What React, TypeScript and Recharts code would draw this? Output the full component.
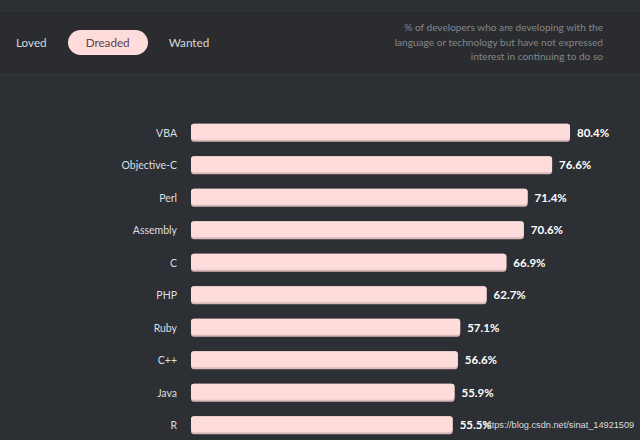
import React from 'react';
import { BarChart, Bar, XAxis, YAxis, LabelList } from 'recharts';

// Languages and "dreaded" share
const languages = ['VBA', 'Objective-C', 'Perl', 'Assembly', 'C', 'PHP', 'Ruby', 'C++', 'Java', 'R'];
const dreaded = [80.4, 76.6, 71.4, 70.6, 66.9, 62.7, 57.1, 56.6, 55.9, 55.5];
const tabs = ['Loved', 'Dreaded', 'Wanted'];
const activeTab = 'Dreaded';
const note = [
  '% of developers who are developing with the',
  'language or technology but have not expressed',
  'interest in continuing to do so',
];

const chartData = languages.map((name, i) => ({ name, value: dreaded[i] }));

const FONT = 'Lato, "Open Sans", sans-serif';

function PillBar(props: any) {
  const { x, y, width, height } = props;
  if (!width || width <= 0) return null;
  return (
    <g>
      <rect x={x} y={y} width={width} height={height} rx={3} ry={3} fill="#d8b8b8" />
      <rect x={x} y={y} width={width} height={height - 2} rx={3} ry={3} fill="#ffdcdc" />
    </g>
  );
}

export default function App() {
  return (
    <div
      style={{
        position: 'absolute',
        left: 0,
        top: 0,
        width: 640,
        height: 440,
        overflow: 'hidden',
        background: '#2c2f33',
        fontFamily: FONT,
      }}
    >
      <div
        style={{
          position: 'absolute',
          left: 0,
          top: 10,
          width: 640,
          height: 63,
          background: '#2a2c30',
          borderTop: '1px solid #323539',
          borderBottom: '1px solid #323539',
        }}
      />
      <div style={{ position: 'absolute', left: 16, top: 30, display: 'flex', alignItems: 'center' }}>
        {tabs.map((t) => (
          <div
            key={t}
            style={{
              height: 25,
              lineHeight: '25px',
              padding: t === activeTab ? '0 18px' : '0',
              marginRight: 21,
              borderRadius: 12.5,
              background: t === activeTab ? '#ffdcdc' : 'transparent',
              color: t === activeTab ? '#5b4444' : '#d6d8da',
              fontSize: 11.7,
            }}
          >
            {t}
          </div>
        ))}
      </div>
      <div
        style={{
          position: 'absolute',
          right: 37,
          top: 20,
          textAlign: 'right',
          color: '#84878b',
          fontSize: 10.1,
          lineHeight: '14.5px',
        }}
      >
        {note.map((l) => (
          <div key={l}>{l}</div>
        ))}
      </div>
      <div style={{ position: 'absolute', top: 0, left: 0 }}>
        <BarChart
          width={640}
          height={460}
          data={chartData}
          layout="vertical"
          margin={{ top: 116.75, right: 48.3, bottom: 18.25, left: 0 }}
        >
          <XAxis type="number" domain={[0, 85]} hide />
          <YAxis
            type="category"
            dataKey="name"
            width={191}
            tickSize={0}
            tickMargin={14}
            axisLine={false}
            tickLine={false}
            tick={{ fill: '#dcdee0', fontSize: 10.5, fontFamily: FONT }}
          />
          <Bar dataKey="value" barSize={18} shape={<PillBar />} isAnimationActive={false}>
            <LabelList
              dataKey="value"
              position="right"
              offset={7}
              formatter={(v: any) => `${v}%`}
              style={{ fill: '#ffffff', fontWeight: 700, fontSize: 11.5, fontFamily: FONT }}
            />
          </Bar>
        </BarChart>
      </div>
      <div
        style={{
          position: 'absolute',
          left: 484,
          top: 420,
          color: '#dcdcdc',
          fontSize: 9.2,
          fontFamily: '"Liberation Sans", Arial, sans-serif',
        }}
      >
        https://blog.csdn.net/sinat_14921509
      </div>
    </div>
  );
}
